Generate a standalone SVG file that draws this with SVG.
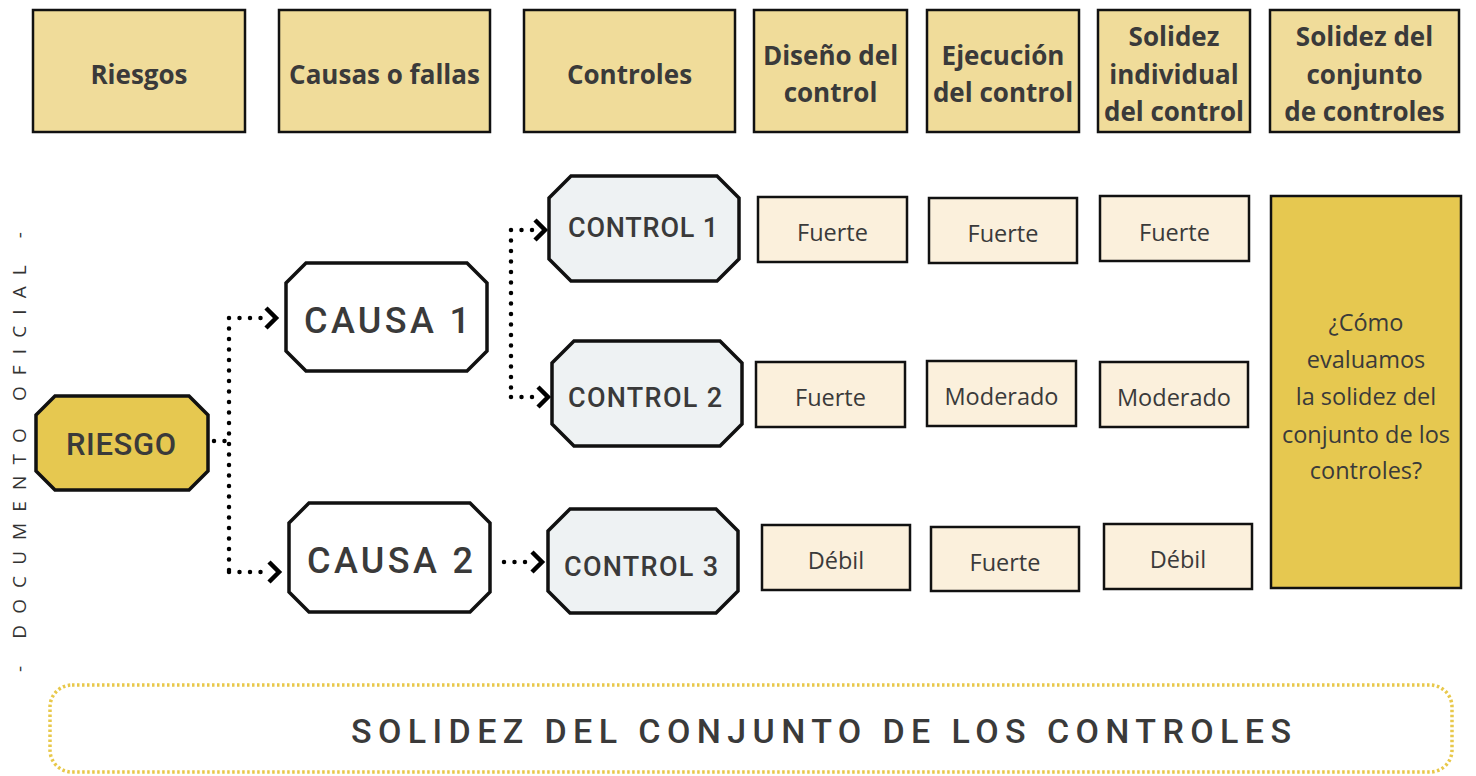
<svg xmlns="http://www.w3.org/2000/svg" width="1476" height="776" viewBox="0 0 1476 776">
<defs>
<style>
.hdr{fill:#f0dc9a;stroke:#111;stroke-width:2.5}
.ht{font-family:"Open Sans",Roboto,"Liberation Sans",sans-serif;font-weight:bold;font-size:26px;fill:#3a3a3a;text-anchor:middle}
.rate{fill:#fbf0dc;stroke:#111;stroke-width:2.5}
.rt{font-family:"Open Sans",Roboto,"Liberation Sans",sans-serif;font-size:23.5px;fill:#3a3a3a;text-anchor:middle}
.oct{stroke:#111;stroke-width:3.5;stroke-linejoin:miter}
.nt{font-family:Roboto,"Liberation Sans",sans-serif;font-weight:500;fill:#3a3a3a;text-anchor:middle}
.dot{fill:none;stroke:#000;stroke-width:4.5;stroke-linecap:round;stroke-dasharray:0 10.5}
.chev{fill:none;stroke:#000;stroke-width:4.5;stroke-linecap:butt;stroke-linejoin:miter}
</style>
</defs>
<rect width="1476" height="776" fill="#fff"/>

<g id="side-label">
<text transform="translate(26,452) rotate(-90)" font-family="'Open Sans','DejaVu Sans',sans-serif" font-size="19" fill="#333" text-anchor="middle" textLength="440" lengthAdjust="spacing">- DOCUMENTO OFICIAL -</text>
</g>

<g id="headers">
<g id="h-riesgos"><rect class="hdr" x="33" y="10" width="212" height="122"/><text class="ht" x="139" y="84">Riesgos</text></g>
<g id="h-causas"><rect class="hdr" x="279" y="10" width="211" height="122"/><text class="ht" x="384.5" y="84">Causas o fallas</text></g>
<g id="h-controles"><rect class="hdr" x="524" y="10" width="211" height="122"/><text class="ht" x="629.5" y="84">Controles</text></g>
<g id="h-diseno"><rect class="hdr" x="754" y="10" width="153" height="122"/><text class="ht" x="830.5" y="65">Diseño del</text><text class="ht" x="830.5" y="102">control</text></g>
<g id="h-ejecucion"><rect class="hdr" x="927" y="10" width="152" height="122"/><text class="ht" x="1003" y="65">Ejecución</text><text class="ht" x="1003" y="102">del control</text></g>
<g id="h-solidez-ind"><rect class="hdr" x="1098" y="10" width="152" height="122"/><text class="ht" x="1174" y="46">Solidez</text><text class="ht" x="1174" y="84">individual</text><text class="ht" x="1174" y="121" textLength="140" lengthAdjust="spacingAndGlyphs">del control</text></g>
<g id="h-solidez-conj"><rect class="hdr" x="1270" y="10" width="189" height="122"/><text class="ht" x="1364.5" y="46">Solidez del</text><text class="ht" x="1364.5" y="84">conjunto</text><text class="ht" x="1364.5" y="121">de controles</text></g>
</g>

<g id="connectors">
<path class="dot" d="M214,441 H229 M229,318 V572 M229,318 H262 M229,572 H265"/>
<polyline class="chev" points="266,308 276,318 266,328"/>
<polyline class="chev" points="269,562 279,572 269,582"/>
<path class="dot" d="M511,230 V398 M511,230 H535 M511,397 H538"/>
<polyline class="chev" points="535,220 545,230 535,240"/>
<polyline class="chev" points="538,387 548,397 538,407"/>
<path class="dot" d="M504,562 H528"/>
<polyline class="chev" points="532,552 542,562 532,572"/>
</g>

<g id="riesgo">
<path class="oct" fill="#e6c850" d="M55,396 H189 L208,415 V471 L189,490 H55 L36,471 V415 Z"/>
<text class="nt" x="121" y="455" font-size="31" textLength="110" lengthAdjust="spacing">RIESGO</text>
</g>
<g id="causa1">
<path class="oct" fill="#fff" d="M306,263 H467 L487,283 V351 L467,371 H306 L286,351 V283 Z"/>
<text class="nt" x="387" y="333" font-size="36" font-weight="400" textLength="166" lengthAdjust="spacing">CAUSA 1</text>
</g>
<g id="causa2">
<path class="oct" fill="#fff" d="M309,503 H470 L490,523 V592 L470,612 H309 L289,592 V523 Z"/>
<text class="nt" x="390" y="573" font-size="36" font-weight="400" textLength="166" lengthAdjust="spacing">CAUSA 2</text>
</g>
<g id="control1">
<path class="oct" fill="#eef2f3" d="M571,176 H717 L739,198 V259 L717,281 H571 L549,259 V198 Z"/>
<text class="nt" x="643" y="237" font-size="27" textLength="150" lengthAdjust="spacing">CONTROL 1</text>
</g>
<g id="control2">
<path class="oct" fill="#eef2f3" d="M574,341 H720 L742,363 V424 L720,446 H574 L552,424 V363 Z"/>
<text class="nt" x="645" y="407" font-size="27" textLength="154" lengthAdjust="spacing">CONTROL 2</text>
</g>
<g id="control3">
<path class="oct" fill="#eef2f3" d="M570,509 H716 L738,531 V591 L716,613 H570 L548,591 V531 Z"/>
<text class="nt" x="641" y="576" font-size="27" textLength="154" lengthAdjust="spacing">CONTROL 3</text>
</g>

<g id="r1c1"><rect class="rate" x="758" y="197" width="149" height="65"/><text class="rt" x="832.5" y="241">Fuerte</text></g>
<g id="r1c2"><rect class="rate" x="929" y="198" width="148" height="65"/><text class="rt" x="1003" y="242">Fuerte</text></g>
<g id="r1c3"><rect class="rate" x="1100" y="196" width="149" height="65"/><text class="rt" x="1174.5" y="241">Fuerte</text></g>
<g id="r2c1"><rect class="rate" x="756" y="362" width="149" height="65"/><text class="rt" x="830.5" y="406">Fuerte</text></g>
<g id="r2c2"><rect class="rate" x="927" y="361" width="149" height="65"/><text class="rt" x="1001.5" y="405">Moderado</text></g>
<g id="r2c3"><rect class="rate" x="1100" y="362" width="148" height="65"/><text class="rt" x="1174" y="406">Moderado</text></g>
<g id="r3c1"><rect class="rate" x="762" y="525" width="148" height="65"/><text class="rt" x="836" y="569">Débil</text></g>
<g id="r3c2"><rect class="rate" x="931" y="527" width="148" height="64"/><text class="rt" x="1005" y="571">Fuerte</text></g>
<g id="r3c3"><rect class="rate" x="1104" y="524" width="148" height="65"/><text class="rt" x="1178" y="568">Débil</text></g>

<g id="pregunta">
<rect x="1271" y="196" width="190" height="392" fill="#e6c850" stroke="#111" stroke-width="2.5"/>
<text class="rt" x="1366" y="331">¿Cómo</text>
<text class="rt" x="1366" y="368">evaluamos</text>
<text class="rt" x="1366" y="405">la solidez del</text>
<text class="rt" x="1366" y="443">conjunto de los</text>
<text class="rt" x="1366" y="479">controles?</text>
</g>

<g id="solidez-conjunto">
<rect x="50" y="685" width="1402" height="87" rx="22" ry="22" fill="none" stroke="#e8c84a" stroke-width="3.5" stroke-dasharray="2.5 2.5"/>
<text x="821" y="743" font-family="Roboto,'Liberation Sans',sans-serif" font-weight="500" font-size="34" fill="#3a3a3a" text-anchor="middle" textLength="940" lengthAdjust="spacing">SOLIDEZ DEL CONJUNTO DE LOS CONTROLES</text>
</g>
</svg>
